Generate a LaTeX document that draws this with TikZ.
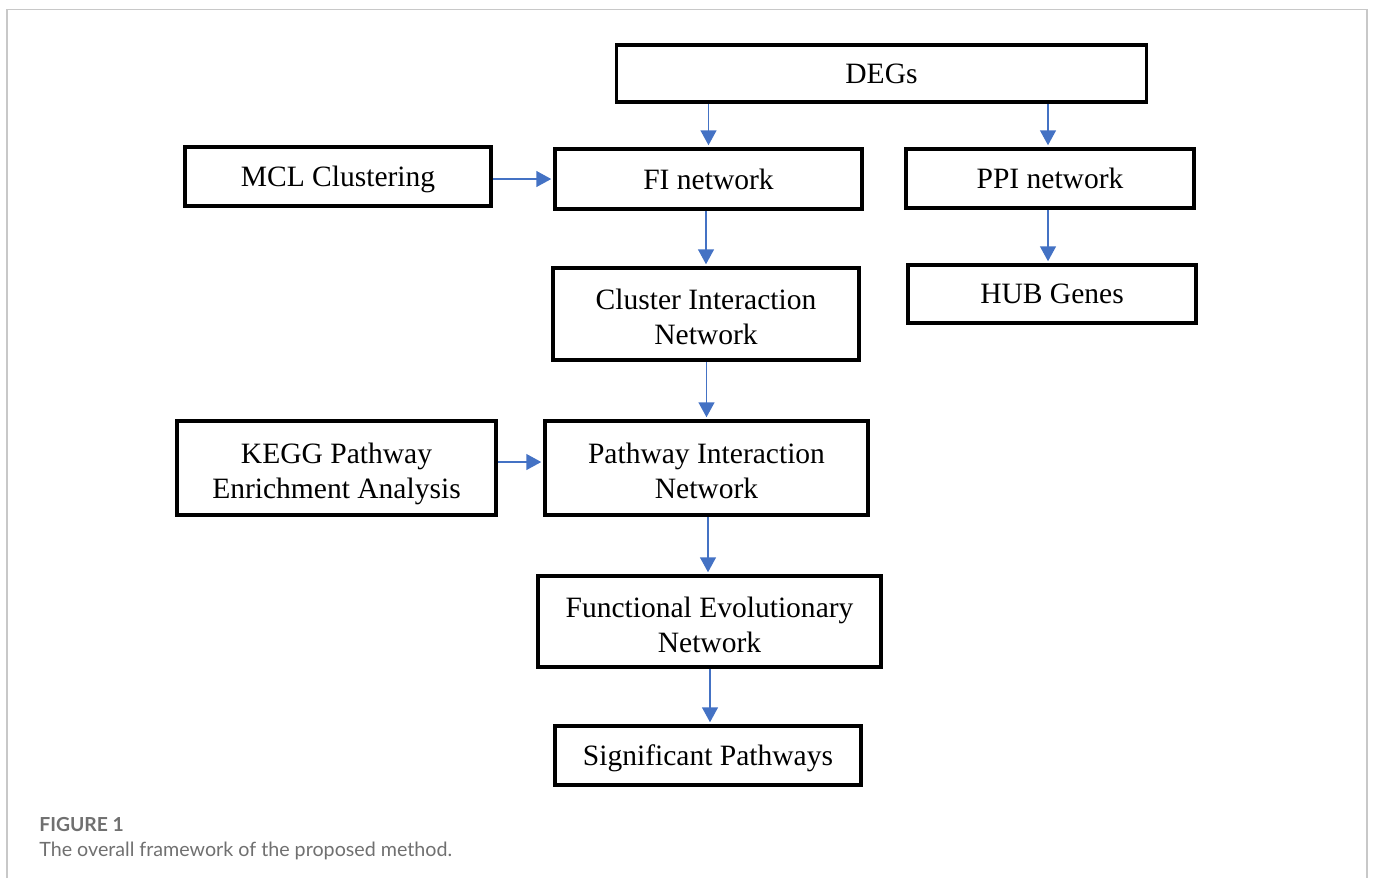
\documentclass[tikz,border=0pt]{standalone}
\usepackage{fontspec}
\setmainfont{Liberation Serif}
\newfontfamily\capfont{Lato}
\usetikzlibrary{arrows.meta,positioning}
\definecolor{arrowblue}{HTML}{4472C4}
\definecolor{framegray}{HTML}{C8C8C8}
\definecolor{capgray}{HTML}{707070}

\begin{document}
\begin{tikzpicture}[x=0.2mm,y=-0.2mm,
    box/.style={rectangle, draw, line width=0.7mm, align=center, inner sep=0pt,
        text depth=0pt, font=\fontsize{16.8}{20}\selectfont},
    twoline/.style={box, text height=35pt},
    flow/.style={draw=arrowblue, line width=0.3mm, shorten >=0.4mm,
        -{Triangle[length=3mm, width=3.2mm, fill=arrowblue]}}]
    \useasboundingbox (0,0) rectangle (1373,878);
    % outer frame of the figure
    \draw[framegray, line width=0.3mm] (7,878) -- (7,9.5) -- (1367,9.5) -- (1367,878);

    \node(degs) [box, minimum width=106mm, minimum height=11.4mm] at (881.5,73.5) {DEGs};
    \node(mcl) [box, minimum width=61.2mm, minimum height=11.8mm] at (338,176.5) {MCL Clustering};
    \node(fi) [box, minimum width=61.4mm, minimum height=12mm] at (708.5,179) {FI network};
    \node(ppi) [box, minimum width=57.6mm, minimum height=11.8mm] at (1050,178.5) {PPI network};
    \node(cin) [twoline, minimum width=61.2mm, minimum height=18.4mm] at (706,314) {Cluster Interaction\\Network};
    \node(hub) [box, minimum width=57.6mm, minimum height=11.6mm] at (1052,294) {HUB Genes};
    \node(kegg) [twoline, minimum width=63.8mm, minimum height=18.8mm] at (336.5,468) {KEGG Pathway\\Enrichment Analysis};
    \node(pin) [twoline, minimum width=64.6mm, minimum height=18.8mm] at (706.5,468) {Pathway Interaction\\Network};
    \node(fen) [twoline, minimum width=68.6mm, minimum height=18.2mm] at (709.5,621.5) {Functional Evolutionary\\Network};
    \node(sig) [box, minimum width=61.2mm, minimum height=11.8mm] at (708,755.5) {Significant Pathways};

    % caption
    \node(figlabel) [anchor=base west, inner sep=0pt, text=capgray,
        font=\capfont\bfseries\fontsize{11}{13}\selectfont] at (39,831) {FIGURE 1};
    \node(figtext) [anchor=base west, inner sep=0pt, text=capgray,
        font=\capfont\fontsize{11.2}{13}\selectfont] at (39,856) {The overall framework of the proposed method.};

    \draw[flow] (degs.south -| fi.north) -- (fi.north);
    \draw[flow] (degs.south -| 1048,0) -- (ppi.north -| 1048,0);
    \draw[flow] (fi.west -| mcl.east) -- (fi.west);
    \draw[flow] (fi.south -| cin.north) -- (cin.north);
    \draw[flow] (ppi.south -| 1048,0) -- (hub.north -| 1048,0);
    \draw[flow] (cin.south -| pin.north) -- (pin.north);
    \draw[flow] ([yshift=1.2mm]kegg.east) -- ([yshift=1.2mm]kegg.east -| pin.west);
    \draw[flow] (pin.south -| 708,0) -- (fen.north -| 708,0);
    \draw[flow] (fen.south -| 710,0) -- (sig.north -| 710,0);
\end{tikzpicture}
\end{document}
